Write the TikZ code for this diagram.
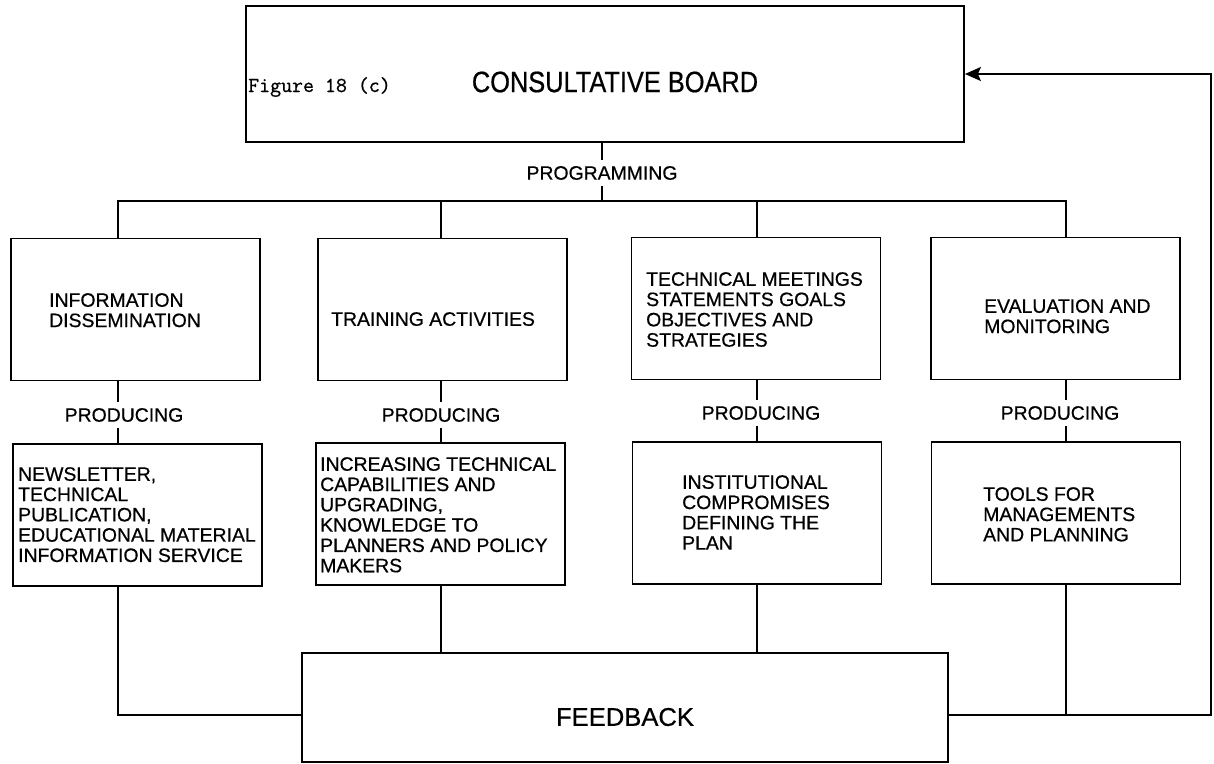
\documentclass[tikz,border=0pt]{standalone}
\usepackage{fontspec}
\setmainfont{Liberation Sans}
\newfontfamily\chartfont{Liberation Sans}[FakeBold=0.6]
\newfontfamily\boardfont{Liberation Sans}[FakeBold=0.6, FakeStretch=0.86]
\newfontfamily\typefont{Latin Modern Mono}[FakeBold=0.8]
\usetikzlibrary{arrows.meta}

\tikzset{
  block/.style={draw, line width=1.8pt, inner sep=0pt, minimum width=249pt, minimum height=142pt},
  boxtext/.style={anchor=north west, inner sep=0pt, align=left, font=\chartfont\fontsize{19.4}{20.3}\selectfont},
  linklabel/.style={inner xsep=2pt, inner ysep=6pt, font=\chartfont\fontsize{19.4}{20}\selectfont},
  link/.style={line width=1.8pt}
}

\begin{document}
\begin{tikzpicture}[x=1pt, y=-1pt]
%\draw [help lines, step=50](0,0) grid (1214,763);
\useasboundingbox (0,0) rectangle (1214,763);

% column lines
\coordinate (c1) at (118,201);
\coordinate (c2) at (441,201);
\coordinate (c3) at (757,201);
\coordinate (c4) at (1066,201);
\coordinate (fbline) at (0,715);
\coordinate (rim) at (1211,715);

% top box
\node[block, minimum width=718pt, minimum height=136pt] (board) at (605,74) {};
\node[font=\boardfont\fontsize{29.5}{29.5}\selectfont] (boardtxt) at (615,82) {CONSULTATIVE BOARD};
\node[anchor=base west, inner sep=0pt, font=\typefont\fontsize{21.3}{21.3}\selectfont] (figno) at (248,92) {Figure 18 (c)};

% activities
\node[block] (info) at (135.5,309.5) {};
\node[block] (train) at (442.5,309.5) {};
\node[block] (meet) at (756,308.5) {};
\node[block] (eval) at (1055.5,308.5) {};
\node[boxtext] (infotxt) at (49,293) {INFORMATION\\DISSEMINATION};
\node[boxtext] (traintxt) at (331,312) {TRAINING ACTIVITIES};
\node[boxtext] (meettxt) at (646,272) {TECHNICAL MEETINGS\\STATEMENTS GOALS\\OBJECTIVES AND\\STRATEGIES};
\node[boxtext] (evaltxt) at (984,299) {EVALUATION AND\\MONITORING};

% products
\node[block] (news) at (137.5,515) {};
\node[block] (skills) at (440.5,514) {};
\node[block] (plan) at (757,513) {};
\node[block] (tools) at (1056,513) {};
\node[boxtext] (newstxt) at (18,467) {NEWSLETTER,\\TECHNICAL\\PUBLICATION,\\EDUCATIONAL MATERIAL\\INFORMATION SERVICE};
\node[boxtext] (skillstxt) at (320,457) {INCREASING TECHNICAL\\CAPABILITIES AND\\UPGRADING,\\KNOWLEDGE TO\\PLANNERS AND POLICY\\MAKERS};
\node[boxtext] (plantxt) at (682,475) {INSTITUTIONAL\\COMPROMISES\\DEFINING THE\\PLAN};
\node[boxtext] (toolstxt) at (983,487) {TOOLS FOR\\MANAGEMENTS\\AND PLANNING};

% feedback
\node[block, minimum width=646pt, minimum height=109pt] (feedback) at (625,707.5) {};
\node[font=\chartfont\fontsize{25.6}{25.6}\selectfont] (feedtxt) at (625,717) {FEEDBACK};

% labels
\node[linklabel] (prog) at (602,173) {PROGRAMMING};
\node[linklabel] (prod1) at (124,415) {PRODUCING};
\node[linklabel] (prod2) at (441,415) {PRODUCING};
\node[linklabel] (prod3) at (761,413) {PRODUCING};
\node[linklabel] (prod4) at (1060,413) {PRODUCING};

% connectors
\draw[link] (prog.north |- board.south) -- (prog.north);
\draw[link] (prog.south) -- (prog.south |- c1);
\draw[link] (info.north -| c1) -- (c1) -- (c4) -- (eval.north -| c4);
\draw[link] (train.north -| c2) -- (c2);
\draw[link] (meet.north -| c3) -- (c3);
\foreach \up/\lab/\down/\col in {info/prod1/news/c1, train/prod2/skills/c2, meet/prod3/plan/c3, eval/prod4/tools/c4}
{
  \draw[link] (\up.south -| \col) -- (\lab.north -| \col);
  \draw[link] (\lab.south -| \col) -- (\down.north -| \col);
}
\draw[link] (news.south -| c1) |- (feedback.west |- fbline);
\draw[link] (skills.south -| c2) -- (feedback.north -| c2);
\draw[link] (plan.south -| c3) -- (feedback.north -| c3);
\draw[link] (tools.south -| c4) -- (c4 |- fbline);
\draw[link, -{Stealth[length=16pt, width=14pt, inset=3pt]}] (feedback.east |- fbline) -- (rim) |- (board.east);

\end{tikzpicture}
\end{document}
